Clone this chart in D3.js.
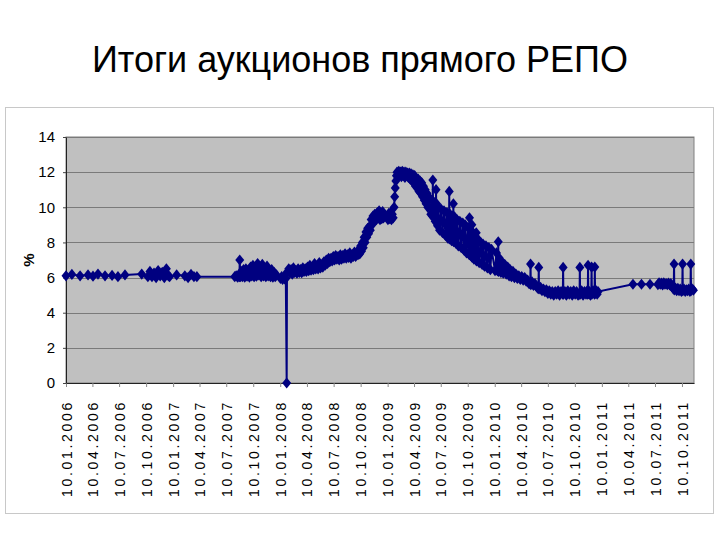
<!DOCTYPE html>
<html>
<head>
<meta charset="utf-8">
<script src="https://cdn.jsdelivr.net/npm/d3@7"></script>
<style>
  body { margin: 0; background: #fff; }
  svg { display: block; font-family: "Liberation Sans", Arial, sans-serif; }
</style>
</head>
<body>
<div id="vis"></div>
<script>

const FRAME_WIDTH = 720;
const FRAME_HEIGHT = 540;
const PLOT = {left: 66, right: 694, top: 137, bottom: 383};

// итоги аукционов: [дата, ставка %]
const repo2006 = [
  ["10.01.2006", 6.10], ["30.01.2006", 6.18], ["27.02.2006", 6.10], ["26.03.2006", 6.15],
  ["12.04.2006", 6.08], ["29.04.2006", 6.20], ["23.05.2006", 6.10], ["16.06.2006", 6.12],
  ["06.07.2006", 6.05], ["30.07.2006", 6.15], ["25.09.2006", 6.20], ["16.10.2006", 6.05],
  ["23.10.2006", 6.35], ["30.10.2006", 6.05], ["06.11.2006", 6.25], ["13.11.2006", 6.00],
  ["20.11.2006", 6.40], ["27.11.2006", 6.10], ["04.12.2006", 6.30], ["11.12.2006", 6.00],
  ["18.12.2006", 6.50], ["25.12.2006", 6.10], ["29.12.2006", 6.05]
];

const repo2007 = [
  ["22.01.2007", 6.15], ["19.02.2007", 6.10], ["02.03.2007", 6.00], ["12.03.2007", 6.18],
  ["22.03.2007", 6.05], ["01.04.2007", 6.05],
  ["08.08.2007", 6.05], ["13.08.2007", 6.10], ["18.08.2007", 6.02], ["24.08.2007", 6.05],
  ["25.08.2007", 7.00], ["27.08.2007", 6.05], ["30.08.2007", 6.35], ["03.09.2007", 6.05],
  ["07.09.2007", 6.45], ["11.09.2007", 6.02], ["15.09.2007", 6.50], ["19.09.2007", 6.08],
  ["23.09.2007", 6.40], ["27.09.2007", 6.03], ["01.10.2007", 6.60], ["05.10.2007", 6.10],
  ["09.10.2007", 6.70], ["13.10.2007", 6.05], ["17.10.2007", 6.55], ["21.10.2007", 6.08],
  ["25.10.2007", 6.80], ["29.10.2007", 6.15], ["02.11.2007", 6.60], ["06.11.2007", 6.05],
  ["10.11.2007", 6.75], ["14.11.2007", 6.10], ["18.11.2007", 6.50], ["22.11.2007", 6.05],
  ["26.11.2007", 6.65], ["30.11.2007", 6.10], ["04.12.2007", 6.40], ["08.12.2007", 6.05],
  ["12.12.2007", 6.45], ["16.12.2007", 6.02], ["20.12.2007", 6.30], ["24.12.2007", 6.05],
  ["28.12.2007", 6.15]
];

const repo2008 = [
  ["11.01.2008", 5.95], ["15.01.2008", 6.05], ["18.01.2008", 5.90], ["22.01.2008", 6.00],
  ["25.01.2008", 5.92], ["29.01.2008", 5.95], ["01.02.2008", 0.00], ["02.02.2008", 6.30],
  ["08.02.2008", 6.50], ["12.02.2008", 6.25], ["16.02.2008", 6.45], ["20.02.2008", 6.20],
  ["24.02.2008", 6.55], ["28.02.2008", 6.30], ["03.03.2008", 6.40], ["07.03.2008", 6.25],
  ["11.03.2008", 6.50], ["15.03.2008", 6.30], ["19.03.2008", 6.45], ["23.03.2008", 6.28],
  ["27.03.2008", 6.55], ["31.03.2008", 6.35], ["04.04.2008", 6.50], ["08.04.2008", 6.35],
  ["12.04.2008", 6.60], ["16.04.2008", 6.40], ["20.04.2008", 6.70], ["24.04.2008", 6.42],
  ["28.04.2008", 6.55], ["02.05.2008", 6.45], ["06.05.2008", 6.80], ["10.05.2008", 6.50],
  ["14.05.2008", 6.65], ["18.05.2008", 6.50], ["22.05.2008", 6.85], ["26.05.2008", 6.55],
  ["30.05.2008", 6.70], ["03.06.2008", 6.60], ["07.06.2008", 6.90], ["11.06.2008", 6.70],
  ["15.06.2008", 7.00], ["19.06.2008", 6.80], ["23.06.2008", 7.10], ["27.06.2008", 6.90],
  ["01.07.2008", 7.10], ["05.07.2008", 6.95], ["09.07.2008", 7.20], ["13.07.2008", 7.00],
  ["17.07.2008", 7.25], ["21.07.2008", 7.05], ["25.07.2008", 7.20], ["29.07.2008", 7.00],
  ["02.08.2008", 7.30], ["06.08.2008", 7.05], ["10.08.2008", 7.25], ["14.08.2008", 7.10],
  ["18.08.2008", 7.35], ["22.08.2008", 7.10], ["26.08.2008", 7.30], ["30.08.2008", 7.15],
  ["03.09.2008", 7.40], ["07.09.2008", 7.10], ["11.09.2008", 7.30], ["15.09.2008", 7.20],
  ["19.09.2008", 7.45], ["23.09.2008", 7.20], ["27.09.2008", 7.40], ["01.10.2008", 7.30],
  ["04.10.2008", 7.60], ["07.10.2008", 7.35], ["10.10.2008", 7.80], ["13.10.2008", 7.50],
  ["16.10.2008", 8.00], ["19.10.2008", 7.70], ["22.10.2008", 8.30], ["25.10.2008", 8.00],
  ["28.10.2008", 8.60], ["31.10.2008", 8.30], ["03.11.2008", 8.80], ["06.11.2008", 8.50],
  ["09.11.2008", 8.90], ["12.11.2008", 8.70], ["15.11.2008", 9.30], ["18.11.2008", 9.00],
  ["21.11.2008", 9.50], ["24.11.2008", 9.20], ["27.11.2008", 9.60], ["30.11.2008", 9.30],
  ["03.12.2008", 9.30], ["06.12.2008", 9.70], ["09.12.2008", 9.40], ["12.12.2008", 9.80],
  ["15.12.2008", 9.30], ["18.12.2008", 9.70], ["21.12.2008", 9.35], ["24.12.2008", 9.75],
  ["27.12.2008", 9.40], ["30.12.2008", 9.60]
];

const repo2009 = [
  ["11.01.2009", 9.30], ["14.01.2009", 9.65], ["17.01.2009", 9.35], ["20.01.2009", 9.70],
  ["23.01.2009", 9.30], ["26.01.2009", 9.60], ["29.01.2009", 9.40], ["01.02.2009", 10.00],
  ["03.02.2009", 10.60], ["05.02.2009", 11.10], ["07.02.2009", 11.50], ["09.02.2009", 11.80],
  ["11.02.2009", 12.00], ["14.02.2009", 11.85], ["17.02.2009", 12.05], ["20.02.2009", 11.80],
  ["23.02.2009", 12.00], ["26.02.2009", 11.75], ["01.03.2009", 12.05], ["04.03.2009", 11.80],
  ["07.03.2009", 12.00], ["10.03.2009", 11.70], ["13.03.2009", 12.00], ["16.03.2009", 11.85],
  ["19.03.2009", 11.95], ["22.03.2009", 11.70], ["25.03.2009", 11.95], ["28.03.2009", 11.60],
  ["31.03.2009", 11.90], ["03.04.2009", 11.50], ["06.04.2009", 11.85], ["09.04.2009", 11.40],
  ["12.04.2009", 11.80], ["15.04.2009", 11.20], ["18.04.2009", 11.60], ["21.04.2009", 11.10],
  ["24.04.2009", 11.60], ["27.04.2009", 10.90], ["30.04.2009", 11.50], ["03.05.2009", 10.80],
  ["06.05.2009", 11.40], ["09.05.2009", 10.60], ["12.05.2009", 11.20], ["15.05.2009", 10.40],
  ["18.05.2009", 11.00], ["21.05.2009", 10.20], ["24.05.2009", 10.80], ["27.05.2009", 10.00],
  ["30.05.2009", 10.60], ["01.06.2009", 10.50], ["06.06.2009", 9.60], ["11.06.2009", 10.40],
  ["12.06.2009", 9.50], ["13.06.2009", 11.55], ["14.06.2009", 9.50], ["16.06.2009", 10.30],
  ["21.06.2009", 9.20], ["23.06.2009", 9.20], ["24.06.2009", 11.00], ["25.06.2009", 9.15],
  ["26.06.2009", 10.20], ["29.06.2009", 8.95], ["01.07.2009", 10.00], ["06.07.2009", 8.70],
  ["11.07.2009", 9.90], ["16.07.2009", 8.55], ["21.07.2009", 9.80], ["26.07.2009", 8.40],
  ["31.07.2009", 9.70], ["03.08.2009", 8.25], ["07.08.2009", 8.25], ["08.08.2009", 10.90],
  ["09.08.2009", 8.20], ["11.08.2009", 9.60], ["16.08.2009", 8.10], ["19.08.2009", 9.50],
  ["21.08.2009", 8.10], ["22.08.2009", 10.20], ["23.08.2009", 8.05], ["26.08.2009", 9.45],
  ["31.08.2009", 7.95], ["03.09.2009", 9.30], ["08.09.2009", 7.80], ["13.09.2009", 9.20],
  ["18.09.2009", 7.70], ["23.09.2009", 9.10], ["28.09.2009", 7.55], ["01.10.2009", 9.00],
  ["06.10.2009", 7.40], ["11.10.2009", 8.85], ["15.10.2009", 7.30], ["16.10.2009", 9.40],
  ["17.10.2009", 7.30], ["21.10.2009", 8.70], ["23.10.2009", 7.20], ["24.10.2009", 9.00],
  ["25.10.2009", 7.15], ["28.10.2009", 8.55], ["31.10.2009", 7.05], ["03.11.2009", 8.40],
  ["07.11.2009", 7.00], ["08.11.2009", 8.55], ["09.11.2009", 6.95], ["13.11.2009", 8.20],
  ["18.11.2009", 6.85], ["23.11.2009", 8.00], ["28.11.2009", 6.75], ["01.12.2009", 7.90],
  ["06.12.2009", 6.65], ["11.12.2009", 7.80], ["16.12.2009", 6.55], ["21.12.2009", 7.70],
  ["26.12.2009", 6.45], ["30.12.2009", 7.60]
];

const repo2010 = [
  ["11.01.2010", 6.40], ["16.01.2010", 7.40], ["19.01.2010", 6.40], ["21.01.2010", 6.40],
  ["22.01.2010", 8.04], ["23.01.2010", 6.35], ["26.01.2010", 7.10], ["31.01.2010", 6.30],
  ["03.02.2010", 6.90], ["08.02.2010", 6.25], ["13.02.2010", 6.75], ["18.02.2010", 6.20],
  ["23.02.2010", 6.60], ["28.02.2010", 6.10], ["03.03.2010", 6.45], ["08.03.2010", 6.05],
  ["13.03.2010", 6.35], ["18.03.2010", 6.00], ["23.03.2010", 6.20], ["28.03.2010", 5.95],
  ["02.04.2010", 6.10], ["07.04.2010", 5.90], ["12.04.2010", 6.05], ["17.04.2010", 5.85],
  ["22.04.2010", 6.00], ["27.04.2010", 5.80], ["02.05.2010", 5.85], ["07.05.2010", 5.65],
  ["11.05.2010", 5.65], ["12.05.2010", 6.77], ["13.05.2010", 5.60], ["17.05.2010", 5.75],
  ["22.05.2010", 5.55], ["27.05.2010", 5.65], ["01.06.2010", 5.50], ["05.06.2010", 5.40],
  ["08.06.2010", 5.40], ["09.06.2010", 6.58], ["10.06.2010", 5.35], ["15.06.2010", 5.45],
  ["20.06.2010", 5.25], ["25.06.2010", 5.35], ["30.06.2010", 5.20], ["05.07.2010", 5.30],
  ["10.07.2010", 5.10], ["15.07.2010", 5.25], ["20.07.2010", 5.05], ["25.07.2010", 5.20],
  ["30.07.2010", 5.00], ["04.08.2010", 5.20], ["09.08.2010", 5.05], ["14.08.2010", 5.25],
  ["19.08.2010", 5.00], ["24.08.2010", 5.20], ["30.08.2010", 5.05], ["31.08.2010", 6.58],
  ["01.09.2010", 5.05], ["06.09.2010", 5.20], ["11.09.2010", 5.00], ["16.09.2010", 5.25],
  ["21.09.2010", 5.05], ["26.09.2010", 5.20], ["01.10.2010", 5.00], ["06.10.2010", 5.25],
  ["11.10.2010", 5.05], ["16.10.2010", 5.20], ["21.10.2010", 5.00], ["26.10.2010", 5.05],
  ["27.10.2010", 6.58], ["28.10.2010", 5.05], ["02.11.2010", 5.25], ["07.11.2010", 5.00],
  ["12.11.2010", 5.20], ["17.11.2010", 5.05], ["21.11.2010", 5.25], ["23.11.2010", 5.05],
  ["24.11.2010", 6.70], ["25.11.2010", 5.10], ["29.11.2010", 5.20], ["02.12.2010", 5.00],
  ["05.12.2010", 5.10], ["06.12.2010", 6.60], ["07.12.2010", 5.05], ["11.12.2010", 5.25],
  ["16.12.2010", 5.05], ["17.12.2010", 6.60], ["18.12.2010", 5.10], ["22.12.2010", 5.25],
  ["25.12.2010", 5.05], ["28.12.2010", 5.20]
];

const repo2011 = [
  ["26.04.2011", 5.62], ["25.05.2011", 5.62], ["23.06.2011", 5.62], ["20.07.2011", 5.60],
  ["24.07.2011", 5.70], ["28.07.2011", 5.62], ["01.08.2011", 5.68], ["05.08.2011", 5.58],
  ["09.08.2011", 5.70], ["13.08.2011", 5.62], ["17.08.2011", 5.66], ["21.08.2011", 5.60],
  ["25.08.2011", 5.68], ["29.08.2011", 5.58], ["02.09.2011", 5.65], ["06.09.2011", 5.55],
  ["09.09.2011", 5.40], ["12.09.2011", 5.35], ["13.09.2011", 6.77], ["14.09.2011", 5.30],
  ["18.09.2011", 5.40], ["22.09.2011", 5.25], ["26.09.2011", 5.38], ["30.09.2011", 5.25],
  ["04.10.2011", 5.35], ["08.10.2011", 5.22], ["11.10.2011", 5.30], ["12.10.2011", 6.77],
  ["13.10.2011", 5.25], ["17.10.2011", 5.35], ["21.10.2011", 5.22], ["25.10.2011", 5.30],
  ["29.10.2011", 5.25], ["02.11.2011", 5.35], ["06.11.2011", 5.22], ["08.11.2011", 5.30],
  ["09.11.2011", 6.77], ["10.11.2011", 5.25], ["14.11.2011", 5.35], ["18.11.2011", 5.28]
];

const tickLabels = [
  "10.01.2006", "10.04.2006", "10.07.2006", "10.10.2006",
  "10.01.2007", "10.04.2007", "10.07.2007", "10.10.2007",
  "10.01.2008", "10.04.2008", "10.07.2008", "10.10.2008",
  "10.01.2009", "10.04.2009", "10.07.2009", "10.10.2009",
  "10.01.2010", "10.04.2010", "10.07.2010", "10.10.2010",
  "10.01.2011", "10.04.2011", "10.07.2011", "10.10.2011"
];
const yTicks = [0, 2, 4, 6, 8, 10, 12, 14];
const axisStart = "10.01.2006";
const axisEnd = "20.11.2011";

const parseDate = d3.timeParse("%d.%m.%Y");
const formatDate = d3.timeFormat("%d.%m.%Y");

const data = [].concat(repo2006, repo2007, repo2008, repo2009, repo2010, repo2011)
  .map((d) => { return {date: parseDate(d[0]), rate: d[1]}; });

const svg = d3.select("#vis")
  .append("svg")
    .attr("width", FRAME_WIDTH)
    .attr("height", FRAME_HEIGHT);

// заголовок
svg.append("text")
    .attr("x", 360)
    .attr("y", 72)
    .attr("text-anchor", "middle")
    .attr("font-size", "36px")
    .attr("fill", "#000")
    .text("Итоги аукционов прямого РЕПО");

// рамка диаграммы
svg.append("rect")
    .attr("x", 5.5)
    .attr("y", 107.5)
    .attr("width", 708)
    .attr("height", 406)
    .attr("fill", "#fff")
    .attr("stroke", "#c8c8c8");

const X_SCALE = d3.scaleTime()
  .domain([parseDate(axisStart), parseDate(axisEnd)])
  .range([PLOT.left, PLOT.right]);

const Y_SCALE = d3.scaleLinear()
  .domain([0, 14])
  .range([PLOT.bottom, PLOT.top]);

// область построения
svg.append("rect")
    .attr("x", PLOT.left)
    .attr("y", PLOT.top)
    .attr("width", PLOT.right - PLOT.left)
    .attr("height", PLOT.bottom - PLOT.top)
    .attr("fill", "#c0c0c0")
    .attr("stroke", "#808080");

svg.append("g")
  .selectAll("line")
  .data(yTicks.filter((d) => d > 0))
  .enter()
  .append("line")
    .attr("x1", PLOT.left)
    .attr("x2", PLOT.right)
    .attr("y1", (d) => Math.round(Y_SCALE(d)) + 0.5)
    .attr("y2", (d) => Math.round(Y_SCALE(d)) + 0.5)
    .attr("stroke", "#7a7a7a");

// оси
const xAxis = svg.append("g")
    .attr("transform", "translate(0," + PLOT.bottom + ")")
    .call(d3.axisBottom(X_SCALE)
      .tickValues(tickLabels.map(parseDate))
      .tickFormat(formatDate)
      .tickSize(4)
      .tickSizeOuter(0));

xAxis.select(".domain").attr("stroke", "#222");
xAxis.selectAll(".tick line").attr("stroke", "#888");
xAxis.selectAll("text")
    .attr("transform", "rotate(-90)")
    .attr("x", -17)
    .attr("y", 0)
    .attr("dy", "0.36em")
    .attr("text-anchor", "end")
    .attr("font-size", "14px")
    .attr("letter-spacing", "2.7px")
    .attr("fill", "#000");

const yAxis = svg.append("g")
    .attr("transform", "translate(" + PLOT.left + ",0)")
    .call(d3.axisLeft(Y_SCALE)
      .tickValues(yTicks)
      .tickSize(3)
      .tickSizeOuter(0)
      .tickPadding(8));

yAxis.select(".domain").attr("stroke", "#222");
yAxis.selectAll(".tick line").attr("stroke", "#444");
yAxis.selectAll("text")
    .attr("font-size", "15px")
    .attr("font-family", "'Liberation Sans', Arial, sans-serif")
    .attr("fill", "#000");

svg.append("text")
    .attr("transform", "translate(34,260) rotate(-90)")
    .attr("text-anchor", "middle")
    .attr("font-size", "15px")
    .attr("font-weight", "bold")
    .text("%");

// ряд
const line = d3.line()
  .x((d) => X_SCALE(d.date))
  .y((d) => Y_SCALE(d.rate));

svg.append("path")
    .datum(data)
    .attr("d", line)
    .attr("fill", "none")
    .attr("stroke", "#000080")
    .attr("stroke-width", 2);

const diamond = {
  draw(context, size) {
    const w = 4.5, h = 5.6;
    context.moveTo(0, -h);
    context.lineTo(w, 0);
    context.lineTo(0, h);
    context.lineTo(-w, 0);
    context.closePath();
  }
};

svg.selectAll(".point")
  .data(data)
  .enter()
  .append("path")
    .attr("class", "point")
    .attr("d", d3.symbol().type(diamond))
    .attr("transform", (d) => "translate(" + X_SCALE(d.date) + "," + Y_SCALE(d.rate) + ")")
    .attr("fill", "#000080");

</script>
</body>
</html>
